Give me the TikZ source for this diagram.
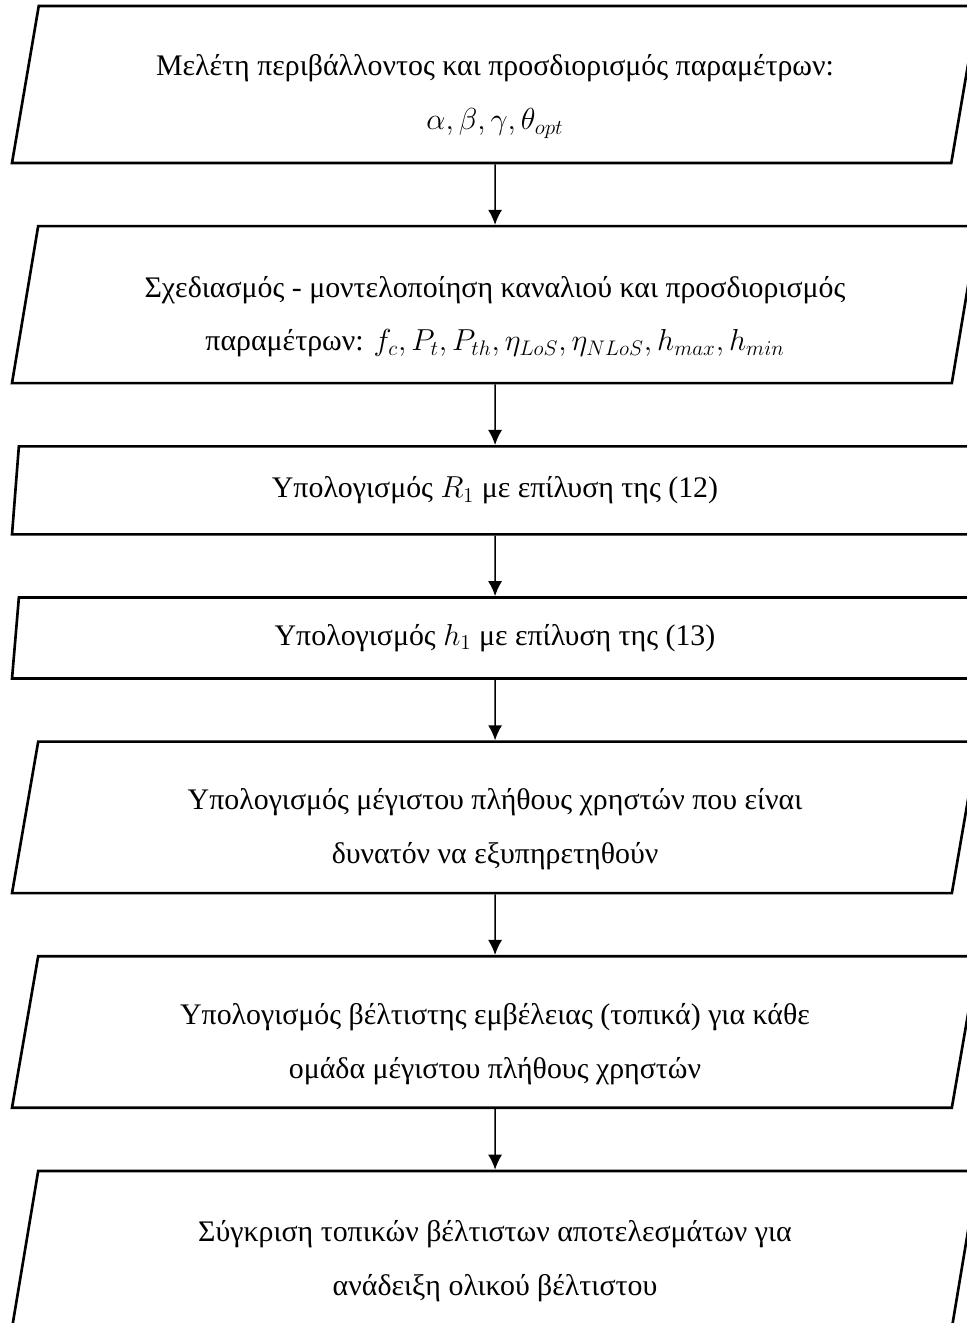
\documentclass[tikz,border=0pt]{standalone}
\usepackage{fontspec}
\setmainfont{Liberation Serif}
\usepackage{tikz}
\usetikzlibrary{arrows.meta,positioning,shapes.geometric}

% pushes a two-line text a little below the middle of its box
\newcommand{\lowtext}{\rule{0pt}{0.9cm}}

\tikzset{
  iobox/.style={draw, line width=1.5pt, shape=trapezium,
    trapezium left angle=76, trapezium right angle=104,
    trapezium stretches body, minimum width=19.32cm,
    align=center, inner sep=0pt, font=\fontsize{17}{30.5}\selectfont},
  tallbox/.style={iobox, minimum height=3.03cm},
  shortbox/.style={iobox, minimum height=1.72cm},
  flow/.style={-{Latex[length=3mm,width=2.8mm]}, line width=0.8pt}
}

\begin{document}
\begin{tikzpicture}[node distance=1.21cm]
  \useasboundingbox (0,0) rectangle (19.34,-26.46);

  % Steps of the procedure
  \node[tallbox, minimum height=3.14cm] (study) at (9.9,-1.69)
    {\lowtext Μελέτη περιβάλλοντος και προσδιορισμός παραμέτρων:\\
     $\alpha,\beta,\gamma,\theta_{opt}$};
  \node[tallbox, minimum height=3.14cm, below=of study] (channel)
    {\lowtext Σχεδιασμός - μοντελοποίηση καναλιού και προσδιορισμός\\
     παραμέτρων: $f_c,P_t,P_{th},\eta_{LoS},\eta_{NLoS},h_{max},h_{min}$};
  \node[shortbox, minimum height=1.76cm, below=of channel] (radius)
    {Υπολογισμός $R_1$ με επίλυση της (12)};
  \node[shortbox, minimum height=1.62cm, below=of radius] (height)
    {Υπολογισμός $h_1$ με επίλυση της (13)};
  \node[tallbox, below=of height] (users)
    {\lowtext Υπολογισμός μέγιστου πλήθους χρηστών που είναι\\
     δυνατόν να εξυπηρετηθούν};
  \node[tallbox, below=of users] (local)
    {\lowtext Υπολογισμός βέλτιστης εμβέλειας (τοπικά) για κάθε\\
     ομάδα μέγιστου πλήθους χρηστών};
  \node[tallbox, minimum height=3.14cm, below=of local] (global)
    {\lowtext Σύγκριση τοπικών βέλτιστων αποτελεσμάτων για\\
     ανάδειξη ολικού βέλτιστου};

  % Arrows
  \draw[flow] (study) -- (channel);
  \draw[flow] (channel) -- (radius);
  \draw[flow] (radius) -- (height);
  \draw[flow] (height) -- (users);
  \draw[flow] (users) -- (local);
  \draw[flow] (local) -- (global);
\end{tikzpicture}
\end{document}
